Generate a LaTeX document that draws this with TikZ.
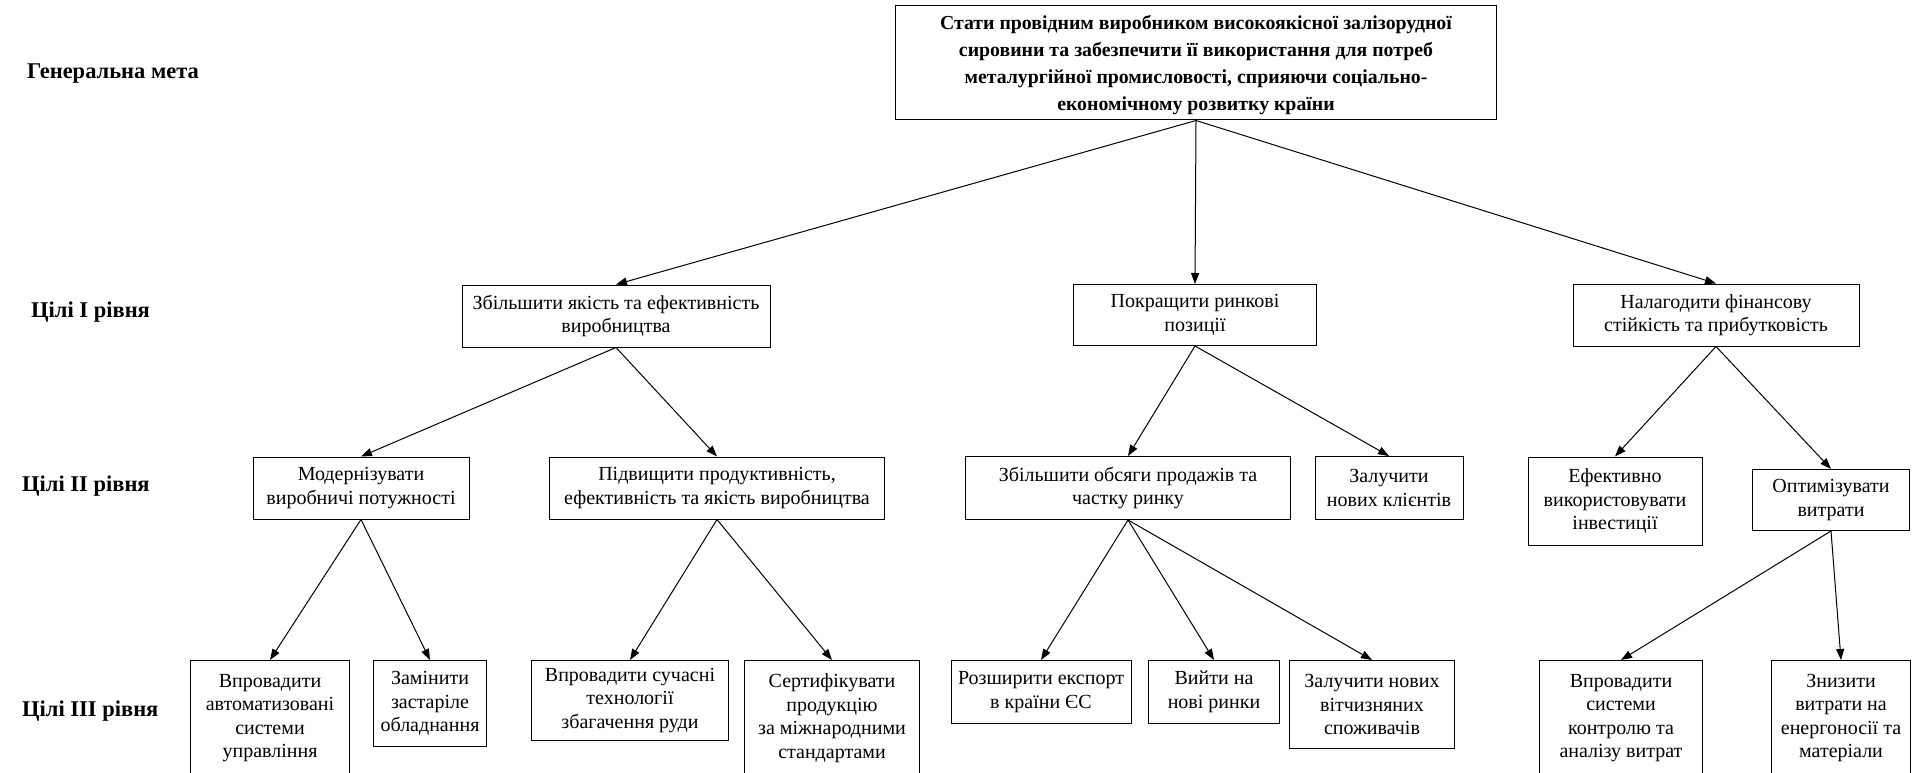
\documentclass[tikz,border=0pt]{standalone}
\usepackage{fontspec}
\setmainfont{Liberation Serif}
\usetikzlibrary{arrows.meta}

\begin{document}
\begin{tikzpicture}[x=1pt, y=-1pt,
    goalbox/.style={draw, line width=1pt, align=center, inner sep=0pt, font=\fontsize{20}{23.5}\selectfont},
    levellabel/.style={anchor=west, inner sep=0pt, font=\fontsize{22.5}{27}\selectfont\bfseries},
    link/.style={line width=1pt, -{Triangle[length=11pt, width=8pt]}}]
    \useasboundingbox (0,0) rectangle (1921,773);
    % Level labels on the left
    \node[levellabel] (lvl0) at (27,74) {Генеральна мета};
    \node[levellabel] (lvl1) at (31,312) {Цілі І рівня};
    \node[levellabel] (lvl2) at (22,486) {Цілі ІІ рівня};
    \node[levellabel] (lvl3) at (22,711) {Цілі ІІІ рівня};
    % Draw the main box
    \node[goalbox, minimum width=601, minimum height=114, font=\fontsize{19.8}{27}\selectfont\bfseries] (top) at (1196,63)
        {\rule{0pt}{19pt}Стати провідним виробником високоякісної залізорудної\\
         сировини та забезпечити її використання для потреб\\
         металургійної промисловості, сприяючи соціально-\\
         економічному розвитку країни};
    % Level I
    \node[goalbox, minimum width=308, minimum height=62] (qual) at (616,316) {Збільшити якість та ефективність\\виробництва};
    \node[goalbox, minimum width=243, minimum height=61] (market) at (1195,315) {Покращити ринкові\\позиції};
    \node[goalbox, minimum width=286, minimum height=62] (fin) at (1716,315) {Налагодити фінансову\\стійкість та прибутковість};
    % Level II
    \node[goalbox, minimum width=216, minimum height=62] (modern) at (361,488) {Модернізувати\\виробничі потужності};
    \node[goalbox, minimum width=335, minimum height=62] (product) at (717,488) {Підвищити продуктивність,\\ефективність та якість виробництва};
    \node[goalbox, minimum width=325, minimum height=63] (sales) at (1128,488) {Збільшити обсяги продажів та\\частку ринку};
    \node[goalbox, minimum width=148, minimum height=63] (clients) at (1389,488) {Залучити\\нових клієнтів};
    \node[goalbox, minimum width=174, minimum height=88] (invest) at (1615,501) {Ефективно\\використовувати\\інвестиції};
    \node[goalbox, minimum width=157, minimum height=61] (costs) at (1831,500) {Оптимізувати\\витрати};
    % Level III
    \node[goalbox, anchor=north, minimum width=159, minimum height=115] (auto) at (270,660) {Впровадити\\автоматизовані\\системи\\управління};
    \node[goalbox, anchor=north, minimum width=113, minimum height=86] (equip) at (430,660) {Замінити\\застаріле\\обладнання};
    \node[goalbox, anchor=north, minimum width=197, minimum height=80] (tech) at (630,660) {Впровадити сучасні\\технології\\збагачення руди};
    \node[goalbox, anchor=north, minimum width=175, minimum height=115] (cert) at (832,660) {Сертифікувати\\продукцію\\за міжнародними\\стандартами};
    \node[goalbox, anchor=north, minimum width=180, minimum height=63] (export) at (1041,660) {Розширити експорт\\в країни ЄС};
    \node[goalbox, anchor=north, minimum width=131, minimum height=63] (newmkt) at (1214,660) {Вийти на\\нові ринки};
    \node[goalbox, anchor=north, minimum width=165, minimum height=88] (domestic) at (1372,660) {Залучити нових\\вітчизняних\\споживачів};
    \node[goalbox, anchor=north, minimum width=163, minimum height=115] (control) at (1621,660) {Впровадити\\системи\\контролю та\\аналізу витрат};
    \node[goalbox, anchor=north, minimum width=139, minimum height=115] (energy) at (1841,660) {Знизити\\витрати на\\енергоносії та\\матеріали};
    % Arrows from the main box
    \draw[link] (top.south) -- (qual.north);
    \draw[link] (top.south) -- (market.north);
    \draw[link] (top.south) -- (fin.north);
    % Arrows to level II
    \draw[link] (qual.south) -- (modern.north);
    \draw[link] (qual.south) -- (product.north);
    \draw[link] (market.south) -- (sales.north);
    \draw[link] (market.south) -- (clients.north);
    \draw[link] (fin.south) -- (invest.north);
    \draw[link] (fin.south) -- (costs.north);
    % Arrows to level III
    \draw[link] (modern.south) -- (auto.north);
    \draw[link] (modern.south) -- (equip.north);
    \draw[link] (product.south) -- (tech.north);
    \draw[link] (product.south) -- (cert.north);
    \draw[link] (sales.south) -- (export.north);
    \draw[link] (sales.south) -- (newmkt.north);
    \draw[link] (sales.south) -- (domestic.north);
    \draw[link] (costs.south) -- (control.north);
    \draw[link] (costs.south) -- (energy.north);
\end{tikzpicture}
\end{document}
